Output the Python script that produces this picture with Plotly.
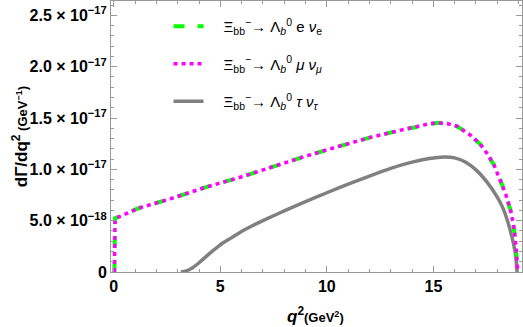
import plotly.graph_objects as go

# ---- data ----
q2_e = [0.03, 0.06, 0.30, 1.16, 2.73, 4.30, 5.86, 7.43, 8.91, 10.48, 12.04, 13.60, 14.40, 14.86, 15.20,
        15.64, 16.11, 16.74, 17.20, 17.52, 17.85, 18.15, 18.40, 18.62, 18.75, 18.85, 18.93, 18.96]
dG_e = [0.0, 5.24, 5.42, 6.21, 7.18, 8.25, 9.18, 10.25, 11.22, 12.19, 13.11, 13.88, 14.25, 14.47, 14.53,
        14.47, 14.20, 13.33, 12.45, 11.55, 10.40, 8.96, 7.55, 6.05, 4.70, 3.14, 0.54, 0.0]

q2_mu = q2_e
dG_mu = dG_e

q2_tau = [3.15, 3.40, 3.70, 4.00, 4.30, 4.70, 5.10, 5.50, 6.00, 6.50, 7.00, 7.50, 8.00, 9.00, 10.00,
          11.00, 12.00, 13.00, 14.00, 14.80, 15.50, 16.00, 16.50, 17.00, 17.50, 18.00, 18.25, 18.50,
          18.70, 18.85, 18.93]
dG_tau = [0.0, 0.10, 0.42, 0.90, 1.45, 2.15, 2.80, 3.30, 3.95, 4.50, 5.00, 5.48, 5.95, 6.85, 7.72,
          8.55, 9.35, 10.10, 10.70, 11.05, 11.20, 11.12, 10.72, 9.95, 8.80, 7.30, 6.30, 4.85,
          3.30, 1.80, 0.0]

scale = 1e-18
ytick_vals = [0, 5e-18, 1.0e-17, 1.5e-17, 2.0e-17, 2.5e-17]
ytick_text = ["0", "5.0 × 10<sup>−18</sup>", "1.0 × 10<sup>−17</sup>", "1.5 × 10<sup>−17</sup>",
              "2.0 × 10<sup>−17</sup>", "2.5 × 10<sup>−17</sup>"]
xtick_vals = [0, 5, 10, 15]

names = [
    "\u2003Ξ<sub>bb</sub><sup>−</sup>→ Λ<sub><i>b</i></sub><sup>0</sup> e <i>ν</i><sub>e</sub>",
    "\u2003Ξ<sub>bb</sub><sup>−</sup>→ Λ<sub><i>b</i></sub><sup>0</sup> <i>μ</i> <i>ν</i><sub><i>μ</i></sub>",
    "\u2003Ξ<sub>bb</sub><sup>−</sup>→ Λ<sub><i>b</i></sub><sup>0</sup> <i>τ</i> <i>ν</i><sub><i>τ</i></sub>",
]

fig = go.Figure()
fig.add_trace(go.Scatter(x=q2_tau, y=[v * scale for v in dG_tau], mode="lines",
                         line=dict(color="rgb(128,128,128)", width=3.5, shape="spline", smoothing=0.6),
                         name=names[2], legendgroup="tau", legendrank=3))
fig.add_trace(go.Scatter(x=q2_e, y=[v * scale for v in dG_e], mode="lines",
                         line=dict(color="rgb(0,255,0)", width=4, dash="11px,13px"),
                         name=names[0], legendgroup="e", legendrank=1))
fig.add_trace(go.Scatter(x=q2_mu, y=[v * scale for v in dG_mu], mode="lines",
                         line=dict(color="rgb(255,0,255)", width=3.5, dash="4px,4px"),
                         name=names[1], legendgroup="mu", legendrank=2))

axis_common = dict(showline=True, linecolor="#999999", linewidth=1, mirror="ticks", ticks="inside",
                   tickcolor="#999999", showgrid=False, zeroline=False,
                   tickfont=dict(family="Liberation Sans", size=16, color="black", weight="bold"))

fig.update_xaxes(range=[-0.13, 19.16], tickvals=xtick_vals, ticklen=6,
                 minor=dict(dtick=1, tick0=0, ticks="inside", ticklen=3, tickcolor="#999999"),
                 **axis_common)
fig.update_yaxes(range=[0, 2.64e-17], tickvals=ytick_vals, ticktext=ytick_text, ticklen=6,
                 minor=dict(dtick=1e-18, tick0=0, ticks="inside", ticklen=3, tickcolor="#999999"),
                 **axis_common)

fig.update_layout(
    width=523, height=327,
    margin=dict(l=111, r=1, t=1, b=55),
    plot_bgcolor="white", paper_bgcolor="white",
    showlegend=True,
    legend=dict(x=0.14, y=0.967, xanchor="left", yanchor="top", bgcolor="rgba(0,0,0,0)",
                traceorder="grouped", tracegroupgap=15,
                font=dict(family="Liberation Sans", size=15, color="black")),
    annotations=[
        dict(text="<b>dΓ/dq<sup>2</sup></b><span style='font-size:13px'><b> (GeV<sup>−1</sup>)</b></span>",
             xref="paper", yref="paper", x=-0.222, y=0.5, xanchor="center", yanchor="middle",
             textangle=-90, showarrow=False,
             font=dict(family="Liberation Sans", size=17, color="black")),
        dict(text="<b><i>q</i><sup>2</sup></b><span style='font-size:13px'><b>(GeV<sup>2</sup>)</b></span>",
             xref="paper", yref="paper", x=0.497, y=-0.16, xanchor="center", yanchor="middle",
             showarrow=False,
             font=dict(family="Liberation Sans", size=17, color="black")),
    ],
)

fig.write_html("out.html", config={"displayModeBar": False},
               post_script="document.body.style.margin='0';")
